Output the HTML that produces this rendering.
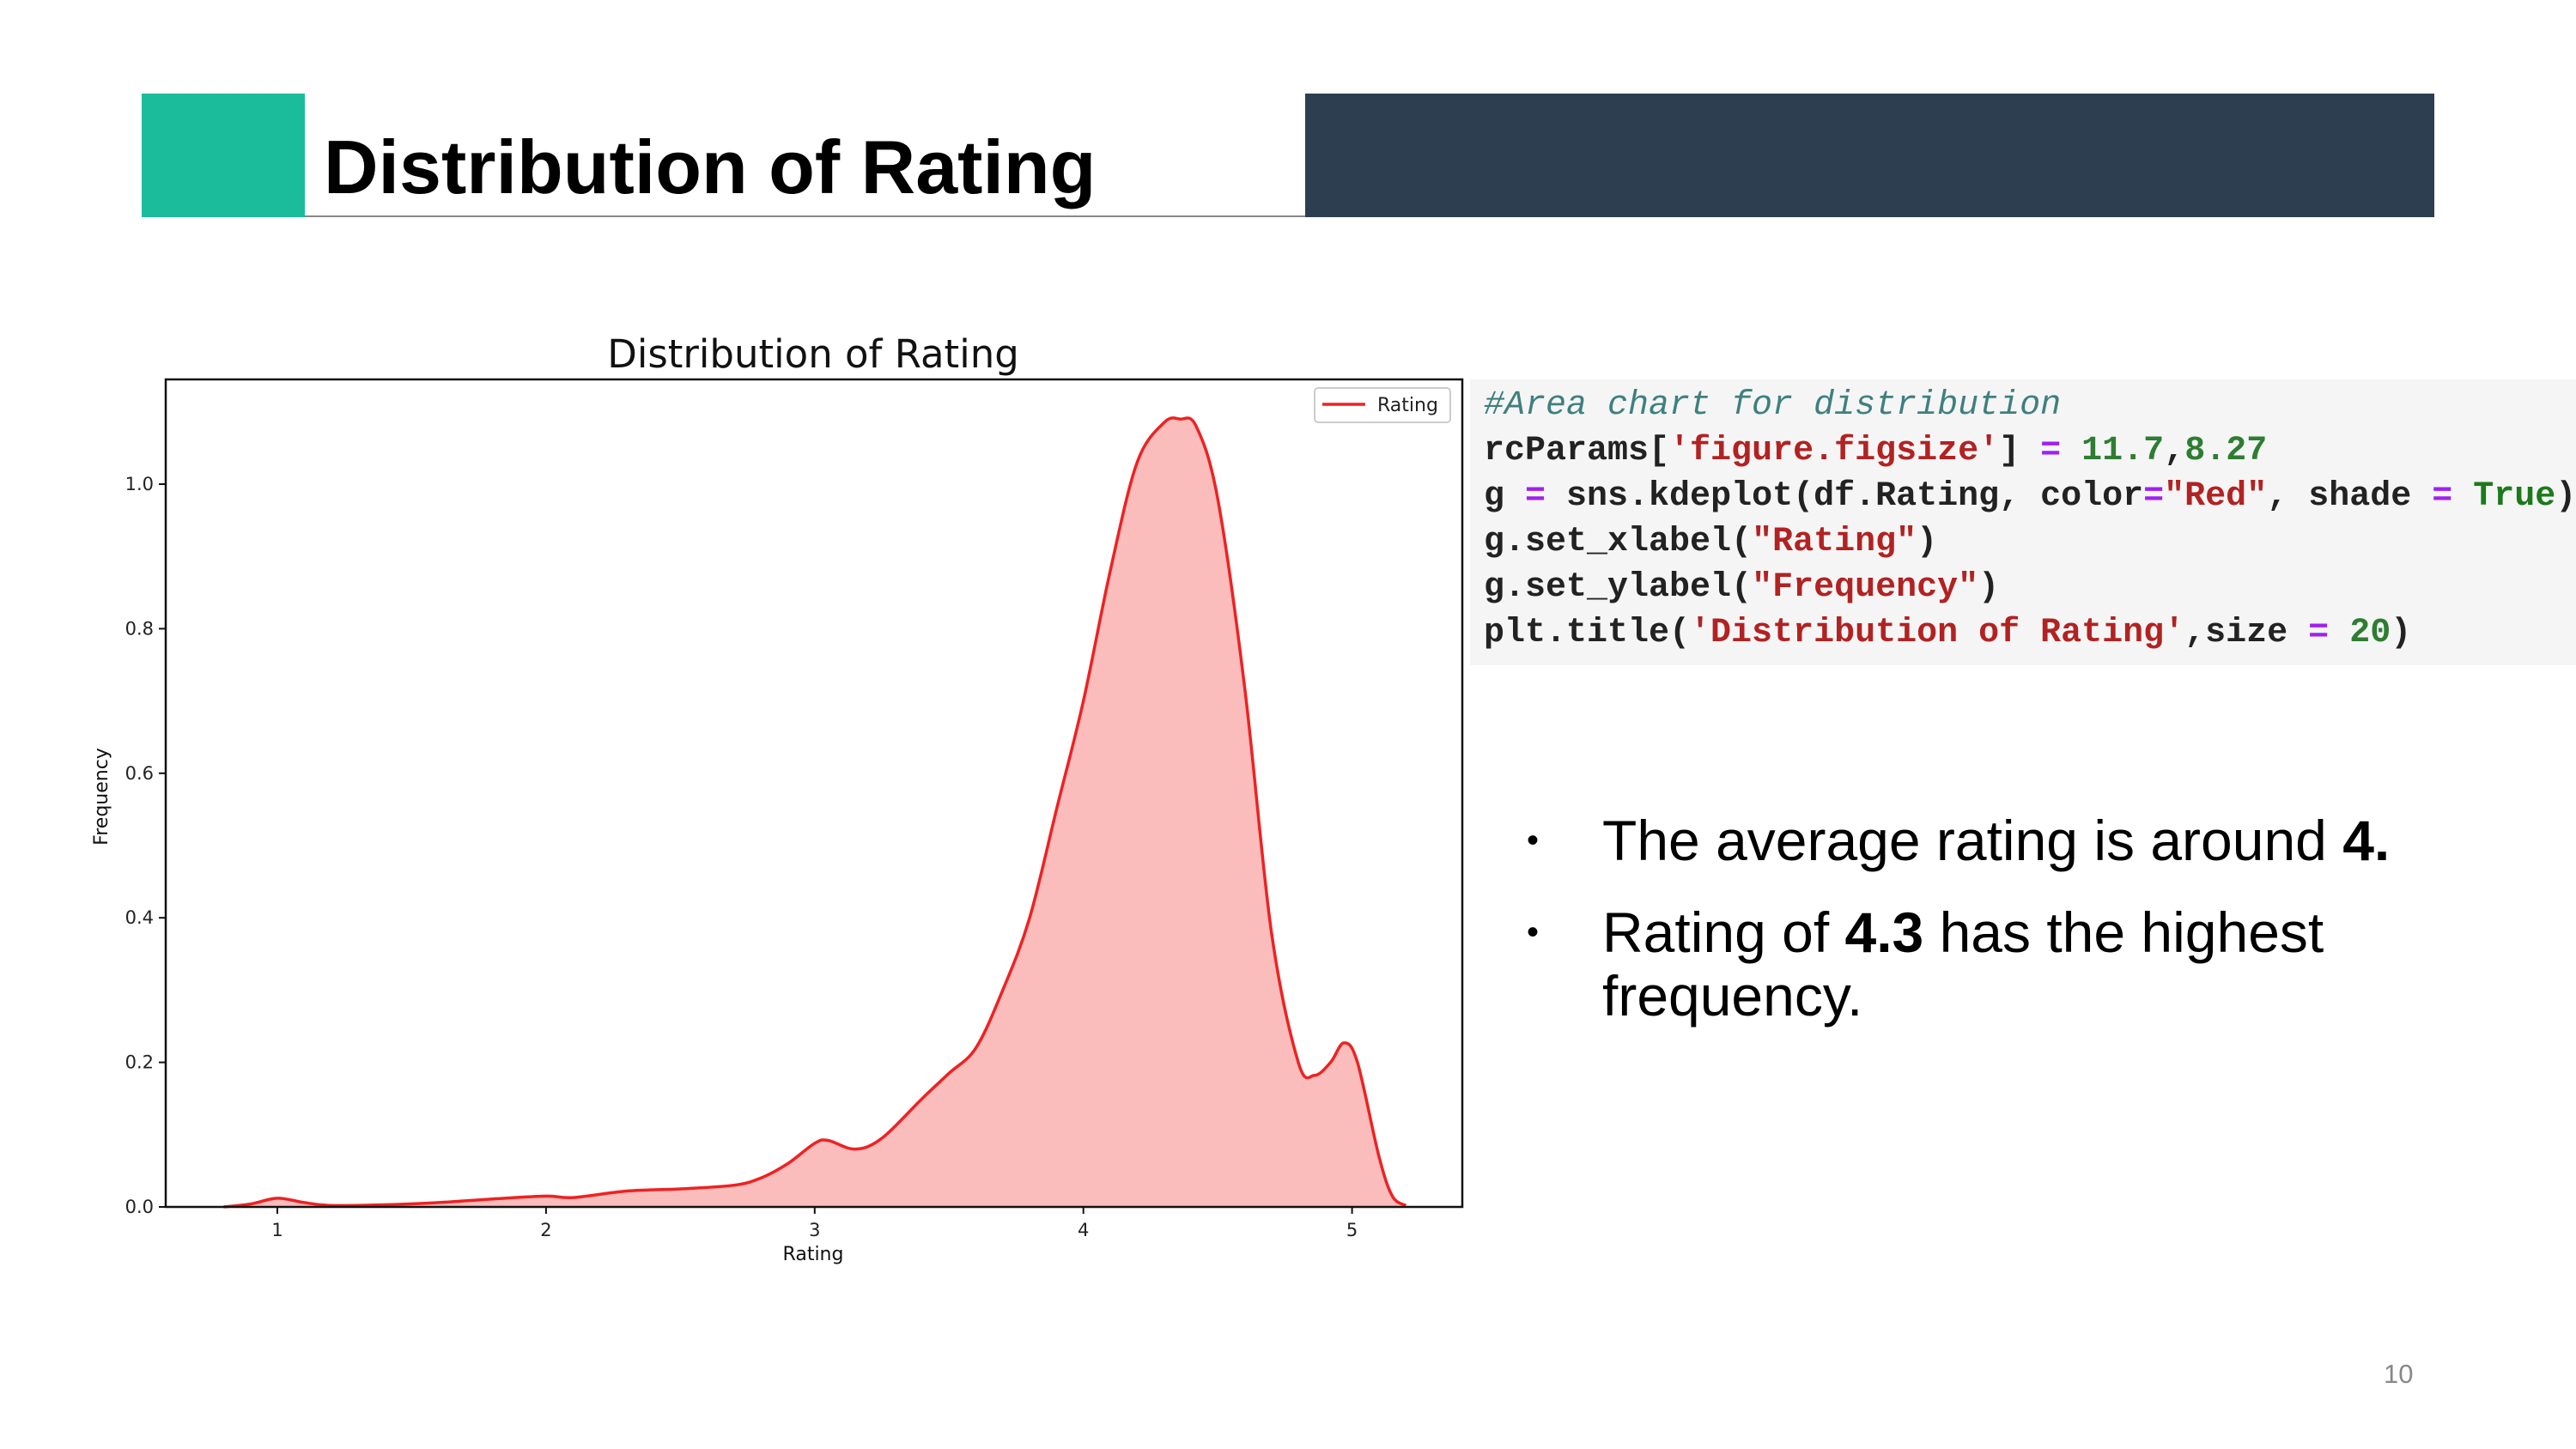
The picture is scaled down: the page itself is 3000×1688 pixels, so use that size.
<!DOCTYPE html>
<html><head><meta charset="utf-8"><style>
html,body{margin:0;padding:0;background:#fff;}
body{width:3000px;height:1688px;position:relative;overflow:hidden;font-family:"Liberation Sans",sans-serif;}
.abs{position:absolute;}
.code{position:absolute;left:1712px;top:442px;width:1288px;height:333px;background:#f5f5f5;font-family:"Liberation Mono",monospace;font-size:40px;color:#222;font-weight:bold;}
.code div{position:absolute;left:16px;white-space:pre;}
.c{color:#3f7f7f;font-style:italic;font-weight:normal}
.s{color:#b22222}.n{color:#2e7d32}.o{color:#a020f0}.k{color:#1b7a1b;font-weight:bold}
</style></head><body>
<div class="abs" style="left:165px;top:109px;width:190px;height:144px;background:#1abc9c"></div>
<div class="abs" style="left:355px;top:251px;width:1165px;height:2px;background:#888"></div>
<div class="abs" style="left:1520px;top:109px;width:1315px;height:144px;background:#2d3e50"></div>
<div class="abs" style="left:377px;top:140px;font-size:88px;font-weight:bold;color:#000;line-height:110px">Distribution of Rating</div>

<svg class="abs" style="left:0;top:0" width="3000" height="1688">
<g id="chart"></g>
</svg>

<div class="code">
<div style="top:8px" class="c">#Area chart for distribution</div>
<div style="top:61px">rcParams[<span class="s">'figure.figsize'</span>] <span class="o">=</span> <span class="n">11.7</span>,<span class="n">8.27</span></div>
<div style="top:114px">g <span class="o">=</span> sns.kdeplot(df.Rating, color<span class="o">=</span><span class="s">"Red"</span>, shade <span class="o">=</span> <span class="k">True</span>)</div>
<div style="top:167px">g.set_xlabel(<span class="s">"Rating"</span>)</div>
<div style="top:220px">g.set_ylabel(<span class="s">"Frequency"</span>)</div>
<div style="top:273px">plt.title(<span class="s">'Distribution of Rating'</span>,size <span class="o">=</span> <span class="n">20</span>)</div>
</div>

<div class="abs" style="left:1778px;top:942px;font-size:66px;line-height:74px;color:#000"><span style="position:absolute;left:0;font-size:40px">•</span><span style="position:absolute;left:88px;white-space:nowrap">The average rating is around <b>4.</b></span></div>
<div class="abs" style="left:1778px;top:1049px;font-size:66px;line-height:74px;color:#000"><span style="position:absolute;left:0;font-size:40px">•</span><span style="position:absolute;left:88px;white-space:nowrap">Rating of <b>4.3</b> has the highest<br>frequency.</span></div>
<div class="abs" style="left:2776px;top:1583px;font-size:31px;color:#888">10</div>

<script>
const xs=[0.8,0.9,1.0,1.1,1.2,1.4,1.6,1.8,2.0,2.1,2.3,2.5,2.7,2.8,2.9,3.0,3.05,3.15,3.25,3.4,3.5,3.6,3.7,3.8,3.9,4.0,4.1,4.2,4.3,4.36,4.42,4.5,4.6,4.7,4.8,4.86,4.92,4.97,5.02,5.1,5.15,5.2];
const ys=[0,0.004,0.012,0.006,0.002,0.003,0.006,0.011,0.015,0.013,0.022,0.025,0.03,0.04,0.06,0.088,0.092,0.08,0.095,0.15,0.185,0.22,0.3,0.4,0.55,0.7,0.88,1.03,1.085,1.09,1.08,0.98,0.72,0.38,0.2,0.182,0.2,0.227,0.2,0.07,0.015,0.002];
const xTicks=[1,2,3,4,5];
const yTicks=[0,0.2,0.4,0.6,0.8,1.0];
const L=193,R=1703,T=442,B=1406;
const xS=v=>323+(v-1)*312.9, yS=v=>B-v*842;
const NS="http://www.w3.org/2000/svg";
const g=document.getElementById('chart');
function mk(t,a){const e=document.createElementNS(NS,t);for(const k in a)e.setAttribute(k,a[k]);g.appendChild(e);return e;}
const P=xs.map((x,i)=>[xS(x),yS(ys[i])]);
let d='M'+P[0][0].toFixed(1)+','+P[0][1].toFixed(1);
for(let i=0;i<P.length-1;i++){
 const p0=P[Math.max(0,i-1)],p1=P[i],p2=P[i+1],p3=P[Math.min(P.length-1,i+2)];
 const c1=[p1[0]+(p2[0]-p0[0])/6,p1[1]+(p2[1]-p0[1])/6];
 const c2=[p2[0]-(p3[0]-p1[0])/6,p2[1]-(p3[1]-p1[1])/6];
 d+='C'+c1.map(v=>v.toFixed(1)).join(',')+' '+c2.map(v=>v.toFixed(1)).join(',')+' '+p2.map(v=>v.toFixed(1)).join(',');
}
let area=mk('path',{d:d+'L'+xS(xs[xs.length-1])+','+B+'L'+xS(xs[0])+','+B+'Z',fill:'#fbbcbc'});


let line=mk('path',{d:d,fill:'none',stroke:'#ee2222','stroke-width':3.5,'stroke-linejoin':'round'});


let fr=mk('rect',{x:L,y:T,width:R-L,height:B-T,fill:'none',stroke:'#111','stroke-width':2.5});


xTicks.forEach(v=>{
 mk('line',{x1:xS(v),x2:xS(v),y1:B,y2:B+8,stroke:'#111','stroke-width':2});
 const t=mk('text',{x:xS(v),y:B+34,'font-size':21,'text-anchor':'middle','font-family':'DejaVu Sans, sans-serif',fill:'#222'});t.textContent=v;
 
 
});
yTicks.forEach(v=>{
 mk('line',{x1:L-8,x2:L,y1:yS(v),y2:yS(v),stroke:'#111','stroke-width':2});
 const t=mk('text',{x:L-14,y:yS(v)+7,'font-size':21,'text-anchor':'end','font-family':'DejaVu Sans, sans-serif',fill:'#222'});t.textContent=v.toFixed(1);
 
 
});
let ct=mk('text',{x:947,y:428,'font-size':45,'text-anchor':'middle','font-family':'DejaVu Sans, sans-serif',fill:'#111'});ct.textContent='Distribution of Rating';


let xl=mk('text',{x:947,y:1468,'font-size':22,'text-anchor':'middle','font-family':'DejaVu Sans, sans-serif',fill:'#111'});xl.textContent='Rating';


let yl=mk('text',{x:0,y:0,'font-size':22,'text-anchor':'middle','font-family':'DejaVu Sans, sans-serif',fill:'#111',transform:'translate(125,928) rotate(-90)'});yl.textContent='Frequency';


let lg=mk('rect',{x:1531,y:452,width:158,height:40,fill:'#fff',stroke:'#ccc','stroke-width':2,rx:4});


mk('line',{x1:1540,x2:1590,y1:471,y2:471,stroke:'#ee2222','stroke-width':3.5});
let lt=mk('text',{x:1604,y:479,'font-size':22,'font-family':'DejaVu Sans, sans-serif',fill:'#222'});lt.textContent='Rating';


</script>
</body></html>
